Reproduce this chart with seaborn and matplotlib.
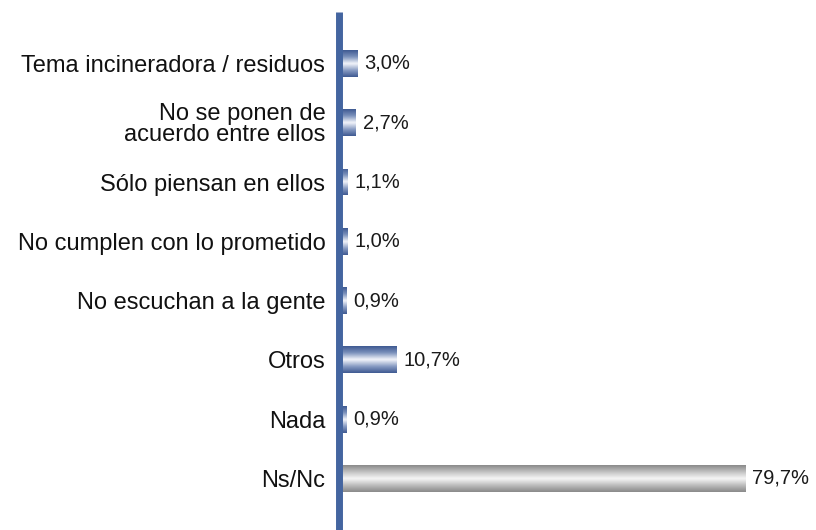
import numpy as np
import pandas as pd
import matplotlib
matplotlib.use("Agg")
import matplotlib.pyplot as plt
from matplotlib.colors import LinearSegmentedColormap
import seaborn as sns

categories = [
    "Tema incineradora / residuos",
    "No se ponen de\nacuerdo entre ellos",
    "Sólo piensan en ellos",
    "No cumplen con lo prometido",
    "No escuchan a la gente",
    "Otros",
    "Nada",
    "Ns/Nc",
]
values = [3.0, 2.7, 1.1, 1.0, 0.9, 10.7, 0.9, 79.7]
value_labels = ["3,0%", "2,7%", "1,1%", "1,0%", "0,9%", "10,7%", "0,9%", "79,7%"]

sns.set_theme(style="white")
plt.rcParams["font.family"] = ["Liberation Sans", "DejaVu Sans"]

df = pd.DataFrame({"cat": categories, "val": values})

fig = plt.figure(figsize=(8.16, 5.30), dpi=100)
ax = fig.add_axes([342 / 816, 0.0, 1 - 342 / 816, 1.0])

sns.barplot(data=df, x="val", y="cat", orient="h", width=0.455,
            color="#4a6499", ax=ax)

blue_cmap = LinearSegmentedColormap.from_list(
    "blue_tube", ["#3f5a92", "#7d93bd", "#f4f6fb", "#8a9dc4", "#3f5a92"])
gray_cmap = LinearSegmentedColormap.from_list(
    "gray_tube", ["#8a8a8a", "#c2c2c2", "#f7f7f7", "#bdbdbd", "#8a8a8a"])
grad = np.linspace(0, 1, 64).reshape(-1, 1)

xlim = (0, 93.7)
ylim = (7.87, -1.07)

for i, patch in enumerate(ax.patches):
    bb = patch.get_bbox()
    cmap = gray_cmap if categories[i] == "Ns/Nc" else blue_cmap
    patch.set_facecolor("none")
    patch.set_edgecolor("none")
    img = ax.imshow(grad, cmap=cmap, aspect="auto", interpolation="bicubic",
                    extent=[bb.x0, bb.x1, bb.y1, bb.y0], zorder=2)
    img.set_clip_path(patch)
    ax.annotate(value_labels[i], xy=(bb.x1, (bb.y0 + bb.y1) / 2),
                xytext=(5, 0), textcoords="offset points",
                ha="left", va="center", fontsize=14.5, color="#1a1a1a")

ax.set_xlim(*xlim)
ax.set_ylim(*ylim)

# thick vertical baseline on the left of the bars
ax.axvline(-0.69, ymin=0, ymax=1 - 12 / 530, color="#4465a0", lw=5.0,
           zorder=3, clip_on=False, solid_capstyle="butt")

for s in ax.spines.values():
    s.set_visible(False)
ax.set_xlabel("")
ax.set_ylabel("")
ax.set_xticks([])
ax.tick_params(axis="y", length=0, pad=12)
ax.set_yticks(range(len(categories)))
ax.set_yticklabels(categories, fontsize=17, color="#111111",
                   linespacing=0.9)

fig.savefig("out.png", dpi=100)
